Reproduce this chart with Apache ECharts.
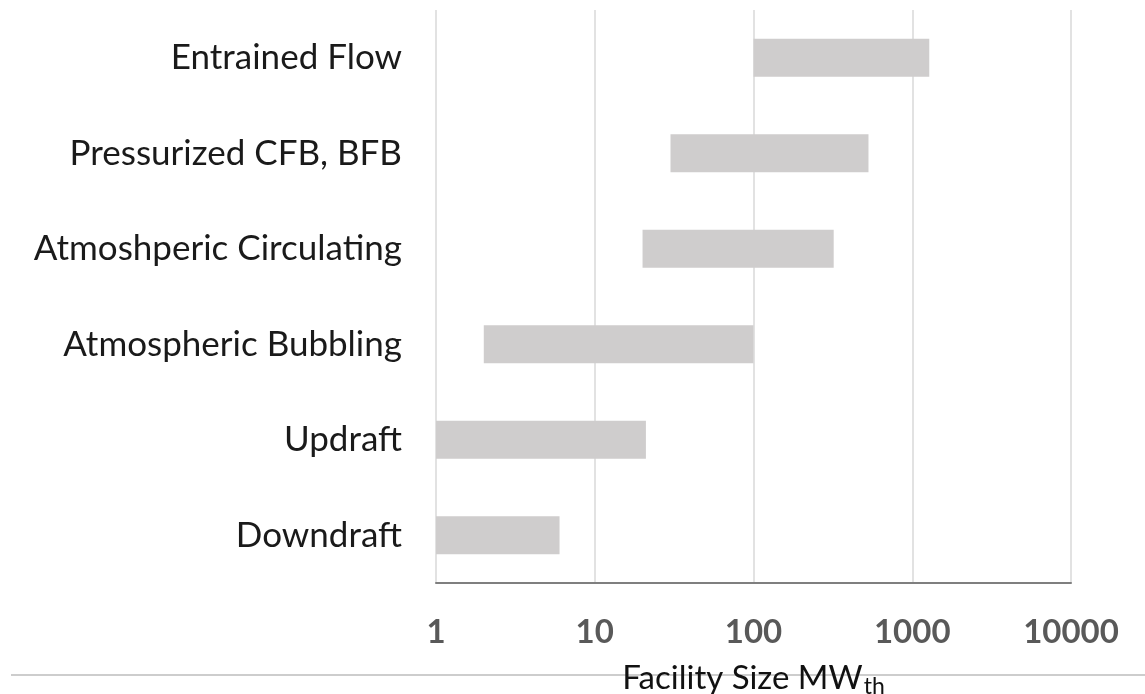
<!DOCTYPE html>
<html>
<head>
<meta charset="utf-8">
<style>
  html, body { margin: 0; padding: 0; background: #ffffff; }
  #chart { width: 1145px; height: 694px; }
</style>
<script src="https://cdn.jsdelivr.net/npm/echarts@6/dist/echarts.min.js"></script>
</head>
<body>
<div id="chart"></div>
<script>
// Gasifier types, listed bottom to top
const categories = [
  'Downdraft',
  'Updraft',
  'Atmospheric Bubbling',
  'Atmoshperic Circulating',
  'Pressurized CFB, BFB',
  'Entrained Flow'
];
// Typical facility size range, MWth
const rangeStart = [1, 1, 2, 20, 30, 100];
const rangeEnd = [6, 21, 100, 320, 530, 1280];
// Decade ticks on the size axis
const tickValues = [1, 10, 100, 1000, 10000];

const rangeData = categories.map((c, i) => [i, rangeStart[i], rangeEnd[i]]);

const chart = echarts.init(document.getElementById('chart'), null, { renderer: 'canvas' });

chart.setOption({
  backgroundColor: '#ffffff',
  animation: false,
  grid: { left: 436, right: 74, top: 10, bottom: 111, containLabel: false, outerBoundsMode: 'none' },
  xAxis: {
    type: 'log',
    logBase: 10,
    min: tickValues[0],
    max: tickValues[tickValues.length - 1],
    axisLine: { show: true, lineStyle: { color: '#7f7f7f', width: 2 } },
    axisTick: { show: false },
    splitLine: { show: true, lineStyle: { color: '#d9d9d9', width: 1.5 } },
    axisLabel: {
      margin: 33,
      color: '#595959',
      fontFamily: 'Lato',
      fontWeight: 'bold',
      fontSize: 33,
      formatter: v => String(v)
    },
    name: '{main|Facility Size MW}{sub|th}',
    nameLocation: 'middle',
    nameGap: 75,
    nameTextStyle: {
      rich: {
        main: { fontFamily: 'Lato', fontSize: 33, color: '#111111' },
        sub: { fontFamily: 'Lato', fontSize: 23, color: '#111111', verticalAlign: 'bottom', padding: [17, 0, 0, 1] }
      }
    }
  },
  yAxis: {
    type: 'category',
    data: categories,
    axisLine: { show: false },
    axisTick: { show: false },
    splitLine: { show: false },
    axisLabel: {
      margin: 34,
      color: '#1a1a1a',
      fontFamily: 'Lato',
      fontSize: 35
    }
  },
  graphic: [{
    type: 'line',
    z: -1,
    silent: true,
    shape: { x1: 11, y1: 675, x2: 1145, y2: 675 },
    style: { stroke: '#bdbdbd', lineWidth: 1.5 }
  }],
  series: [{
    type: 'custom',
    data: rangeData,
    encode: { x: [1, 2], y: 0 },
    renderItem: function (params, api) {
      const cat = api.value(0);
      const p0 = api.coord([api.value(1), cat]);
      const p1 = api.coord([api.value(2), cat]);
      const h = api.size([0, 1])[1] * 0.4;
      return {
        type: 'rect',
        shape: { x: p0[0], y: p0[1] - h / 2, width: p1[0] - p0[0], height: h },
        style: { fill: '#cfcdcd' }
      };
    }
  }]
});
</script>
</body>
</html>
